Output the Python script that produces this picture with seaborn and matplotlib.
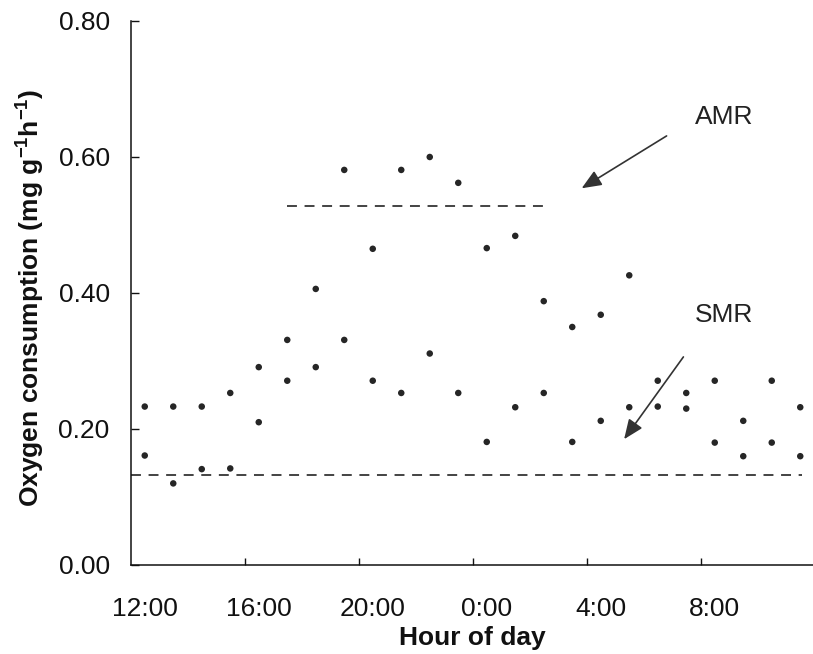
import numpy as np
import pandas as pd
import matplotlib
matplotlib.use("Agg")
import matplotlib.pyplot as plt
import seaborn as sns

# ---- data ----
clock_hours = [12, 13, 14, 15, 16, 17, 18, 19, 20, 21, 22, 23,
               0, 1, 2, 3, 4, 5, 6, 7, 8, 9, 10, 11]
rate_high = [0.233, 0.233, 0.233, 0.253, 0.291, 0.331, 0.406, 0.581, 0.465, 0.581, 0.600, 0.562,
             0.466, 0.484, 0.388, 0.350, 0.368, 0.426, 0.271, 0.253, 0.271, 0.212, 0.271, 0.232]
rate_low = [0.161, 0.120, 0.141, 0.142, 0.210, 0.271, 0.291, 0.331, 0.271, 0.253, 0.311, 0.253,
            0.181, 0.232, 0.253, 0.181, 0.212, 0.232, 0.233, 0.230, 0.180, 0.160, 0.180, 0.160]
tick_labels = ["12:00", "16:00", "20:00", "0:00", "4:00", "8:00"]
tick_clock = [12, 16, 20, 0, 4, 8]
amr_value = 0.528
amr_span = (5.5, 14.65)
smr_value = 0.132
smr_span = (0.0, 23.55)
y_ticks = [0.0, 0.2, 0.4, 0.6, 0.8]

# ---- style ----
sns.set_style("white")
plt.rcParams["font.family"] = ["Liberation Sans", "DejaVu Sans"]
plt.rcParams["mathtext.fontset"] = "custom"
plt.rcParams["mathtext.rm"] = "Liberation Sans"
plt.rcParams["mathtext.bf"] = "Liberation Sans:bold"

start = 12
elapsed = [((h - start) % 24) + 0.5 for h in clock_hours]
df = pd.DataFrame({
    "t": elapsed + elapsed,
    "rate": rate_high + rate_low,
})

fig = plt.figure(figsize=(8.13, 6.54), dpi=100)
ax = fig.add_axes([130.5 / 813, 1 - 565 / 654, 684 / 813, 544 / 654])

sns.scatterplot(data=df, x="t", y="rate", ax=ax, s=22, color="#262626",
                edgecolor="none", linewidth=0, zorder=3)

dash_kw = dict(color="#111111", lw=1.1, dashes=(6.5, 5.0))
ax.plot(list(amr_span), [amr_value, amr_value], **dash_kw)
ax.plot(list(smr_span), [smr_value, smr_value], **dash_kw)

ax.set_xlim(0, 24)
ax.set_ylim(0, 0.8)

# axes styling
for side in ["top", "right"]:
    ax.spines[side].set_visible(False)
for side in ["left", "bottom"]:
    ax.spines[side].set_linewidth(1.1)
    ax.spines[side].set_color("#111111")

ax.set_yticks(y_ticks)
ax.set_yticklabels([f"{v:.2f}" for v in y_ticks])
ax.tick_params(axis="y", direction="in", length=6, width=1.0, pad=15,
               labelsize=19, colors="#111111", left=True)

label_pos = [((h - start) % 24) + 0.5 for h in tick_clock]
ax.set_xticks([4, 8, 12, 16, 20])
ax.set_xticklabels([])
ax.set_xticks(label_pos, tick_labels, minor=True)
ax.tick_params(axis="x", which="major", direction="in", length=5, width=1.0,
               colors="#111111", bottom=True)
ax.tick_params(axis="x", which="minor", length=0, pad=23, labelsize=19,
               colors="#111111", bottom=True)

ax.set_xlabel("")
ax.set_ylabel("")
fig.text(472.5 / 813, 1 - 638 / 654, "Hour of day", ha="center", va="center",
         fontsize=19, fontweight="bold", color="#111111")
fig.text(30 / 813, 1 - 298 / 654,
         r"Oxygen consumption (mg g$^{\mathbf{-1}}$h$^{\mathbf{-1}}$)",
         rotation=90, ha="center", va="center", fontsize=19,
         fontweight="bold", color="#111111")

# annotations
arrow_kw = dict(arrowstyle="-|>,head_length=1.2,head_width=0.5",
                color="#333333", lw=1.2, shrinkA=0, shrinkB=0)
ax.annotate("", xy=(15.83, 0.554), xytext=(18.81, 0.631), arrowprops=arrow_kw)
ax.annotate("", xy=(17.32, 0.185), xytext=(19.40, 0.306), arrowprops=arrow_kw)
ax.text(19.81, 0.659, "AMR", ha="left", va="center", fontsize=19, color="#222222")
ax.text(19.81, 0.368, "SMR", ha="left", va="center", fontsize=19, color="#222222")

fig.savefig("out.png", dpi=100)
